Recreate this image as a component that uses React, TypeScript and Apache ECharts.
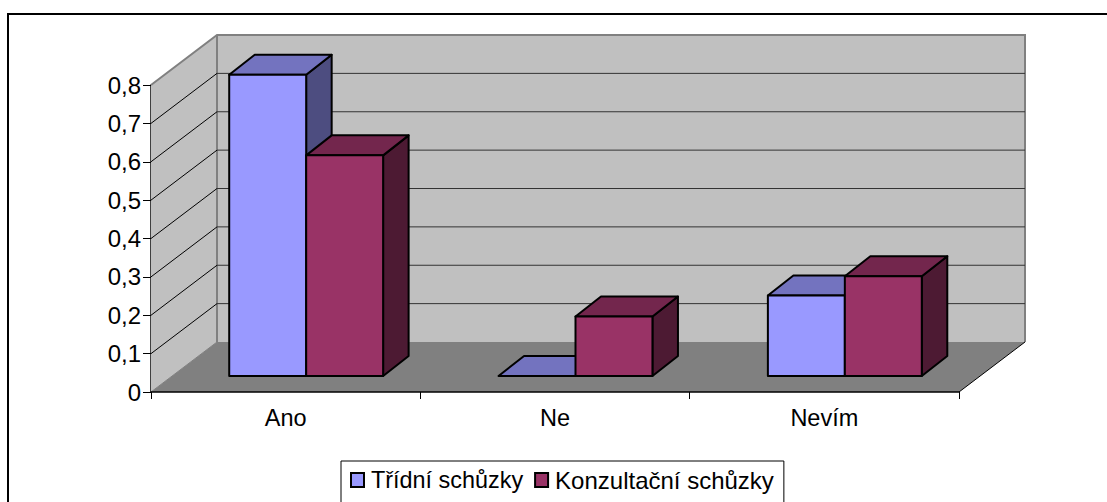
import React, { useEffect, useRef } from "react";
import * as echarts from "echarts";

const categories = ["Ano", "Ne", "Nevím"];
const seriesNames = ["Třídní schůzky", "Konzultační schůzky"];
const tridni = [0.785, 0, 0.21];
const konzultacni = [0.575, 0.155, 0.26];
const ticks = [0, 0.1, 0.2, 0.3, 0.4, 0.5, 0.6, 0.7, 0.8];

const FONT = "'Liberation Sans', Arial, sans-serif";
const DEPTH_X = 66;
const DEPTH_Y = -50;
const BAR_SHIFT_X = 20.5;
const BAR_SHIFT_Y = -16;
const BAR_DX = 25.5;
const BAR_DY = -20;
const BAR_WIDTH_FRAC = 1 / 3.5;

function wallsItem(params: any, api: any) {
  const v = api.value(1);
  const [, y0] = api.coord([0, 0]);
  const s = params.coordSys;
  const x1 = s.x + s.width;
  const y = api.coord([0, v])[1];
  const children: any[] = [];
  if (params.dataIndex === 0) {
    const top = s.y;
    const wallFill = "#c0c0c0";
    const edge = { stroke: "#808080", lineWidth: 2 };
    children.push(
      { type: "polygon", shape: { points: [[s.x, y0], [s.x, top], [s.x + DEPTH_X, top + DEPTH_Y], [s.x + DEPTH_X, y0 + DEPTH_Y]] }, style: { fill: wallFill, stroke: "none" } },
      { type: "rect", shape: { x: s.x + DEPTH_X, y: top + DEPTH_Y, width: s.width, height: s.height }, style: { fill: wallFill, stroke: "none" } },
      { type: "polygon", shape: { points: [[s.x, y0], [x1, y0], [x1 + DEPTH_X, y0 + DEPTH_Y], [s.x + DEPTH_X, y0 + DEPTH_Y]] }, style: { fill: "#808080", stroke: "none" } },
      { type: "polyline", shape: { points: [[s.x, top], [s.x + DEPTH_X, top + DEPTH_Y], [x1 + DEPTH_X, top + DEPTH_Y], [x1 + DEPTH_X, y0 + DEPTH_Y]] }, style: { fill: "none", ...edge } },
      { type: "line", shape: { x1: s.x + DEPTH_X, y1: top + DEPTH_Y, x2: s.x + DEPTH_X, y2: y0 + DEPTH_Y }, style: edge },
      { type: "line", shape: { x1: s.x, y1: y0, x2: s.x + DEPTH_X, y2: y0 + DEPTH_Y }, style: { stroke: "#808080", lineWidth: 1 } },
      { type: "line", shape: { x1: x1, y1: y0, x2: x1 + DEPTH_X, y2: y0 + DEPTH_Y }, style: { stroke: "#000", lineWidth: 1 } }
    );
  } else if (v < ticks[ticks.length - 1]) {
    children.push(
      { type: "line", shape: { x1: s.x, y1: y, x2: s.x + DEPTH_X, y2: y + DEPTH_Y }, style: { stroke: "#000", lineWidth: 1 } },
      { type: "line", shape: { x1: s.x + DEPTH_X, y1: y + DEPTH_Y, x2: x1 + DEPTH_X, y2: y + DEPTH_Y }, style: { stroke: "#333", lineWidth: 1 } }
    );
  }
  return { type: "group", children };
}

function barItem(seriesIndex: number, fronts: string[]) {
  return (params: any, api: any) => {
    const cat = api.value(0);
    const val = api.value(1);
    const band = api.size([1, 0])[0];
    const w = band * BAR_WIDTH_FRAC;
    const c = api.coord([cat, 0]);
    const top = api.coord([cat, val]);
    const xL = c[0] - w + seriesIndex * w + BAR_SHIFT_X;
    const xR = xL + w;
    const yB = c[1] + BAR_SHIFT_Y;
    const yT = top[1] + BAR_SHIFT_Y;
    const stroke = { stroke: "#000", lineWidth: 2, lineJoin: "round" };
    const children: any[] = [
      { type: "polygon", shape: { points: [[xR, yT], [xR + BAR_DX, yT + BAR_DY], [xR + BAR_DX, yB + BAR_DY], [xR, yB]] }, style: { fill: fronts[2], ...stroke } },
      { type: "polygon", shape: { points: [[xL, yT], [xL + BAR_DX, yT + BAR_DY], [xR + BAR_DX, yT + BAR_DY], [xR, yT]] }, style: { fill: fronts[1], ...stroke } },
    ];
    if (val > 0) {
      children.push({ type: "rect", shape: { x: xL, y: yT, width: w, height: yB - yT }, style: { fill: fronts[0], ...stroke } });
    }
    return { type: "group", children };
  };
}

export default function App() {
  const ref = useRef<HTMLDivElement>(null);
  useEffect(() => {
    document.body.style.margin = "0";
    document.body.style.overflow = "hidden";
    const chart = echarts.init(ref.current!, undefined, { renderer: "svg" });
    const text = { fontFamily: FONT, fontSize: 24, color: "#000" };
    chart.setOption({
      animation: false,
      backgroundColor: "#fff",
      grid: { left: 151, top: 85, width: 808, height: 307, containLabel: false },
      xAxis: {
        type: "category",
        data: categories,
        axisLine: { show: true, lineStyle: { color: "#000", width: 1.5 } },
        axisTick: { show: true, alignWithLabel: false, length: 7, lineStyle: { color: "#000" } },
        axisLabel: { ...text, fontSize: 23.5, margin: 14 },
        splitLine: { show: false },
        z: 5,
      },
      yAxis: {
        type: "value",
        min: 0,
        max: 0.8,
        interval: 0.1,
        axisLine: { show: true, lineStyle: { color: "#000", width: 1.5 } },
        axisTick: { show: true, length: 8, lineStyle: { color: "#000" } },
        axisLabel: { ...text, margin: 10, padding: [0, 0, 2, 0], formatter: (v: number) => String(Math.round(v * 10) / 10).replace(".", ",") },
        splitLine: { show: false },
      },
      legend: {
        show: true,
        left: 341,
        top: 461,
        padding: [7, 10, 20, 9],
        itemGap: 11,
        itemWidth: 13,
        itemHeight: 14,
        borderColor: "#000",
        borderWidth: 1,
        backgroundColor: "#fff",
        icon: "rect",
        textStyle: { ...text, padding: [0, 0, 0, 2] },
        data: [
          { name: seriesNames[0], textStyle: { ...text, fontSize: 23.4, padding: [0, 0, 0, 2] } },
          { name: seriesNames[1], textStyle: { ...text, padding: [0, 0, 0, 2] } },
        ],
      },
      series: [
        {
          type: "custom",
          name: "walls",
          coordinateSystem: "cartesian2d",
          silent: true,
          z: 1,
          clip: false,
          data: ticks.map((t) => [0, t]),
          encode: { x: 0, y: 1 },
          renderItem: wallsItem,
        },
        {
          type: "custom",
          name: seriesNames[0],
          coordinateSystem: "cartesian2d",
          z: 3,
          clip: false,
          itemStyle: { color: "#9999ff", borderColor: "#000", borderWidth: 2 },
          data: categories.map((_, i) => [i, tridni[i]]),
          encode: { x: 0, y: 1 },
          renderItem: barItem(0, ["#9999ff", "#7373bf", "#4d4d80"]),
        },
        {
          type: "custom",
          name: seriesNames[1],
          coordinateSystem: "cartesian2d",
          z: 4,
          clip: false,
          itemStyle: { color: "#993366", borderColor: "#000", borderWidth: 2 },
          data: categories.map((_, i) => [i, konzultacni[i]]),
          encode: { x: 0, y: 1 },
          renderItem: barItem(1, ["#993366", "#73264d", "#4d1a33"]),
        },
      ],
      graphic: [
        {
          type: "polyline",
          silent: true,
          shape: { points: [[8, 510], [8, 14], [1107, 14]] },
          style: { fill: "none", stroke: "#000", lineWidth: 2 },
        },
      ],
    });
    return () => chart.dispose();
  }, []);
  return <div ref={ref} style={{ width: 1107, height: 502 }} />;
}
